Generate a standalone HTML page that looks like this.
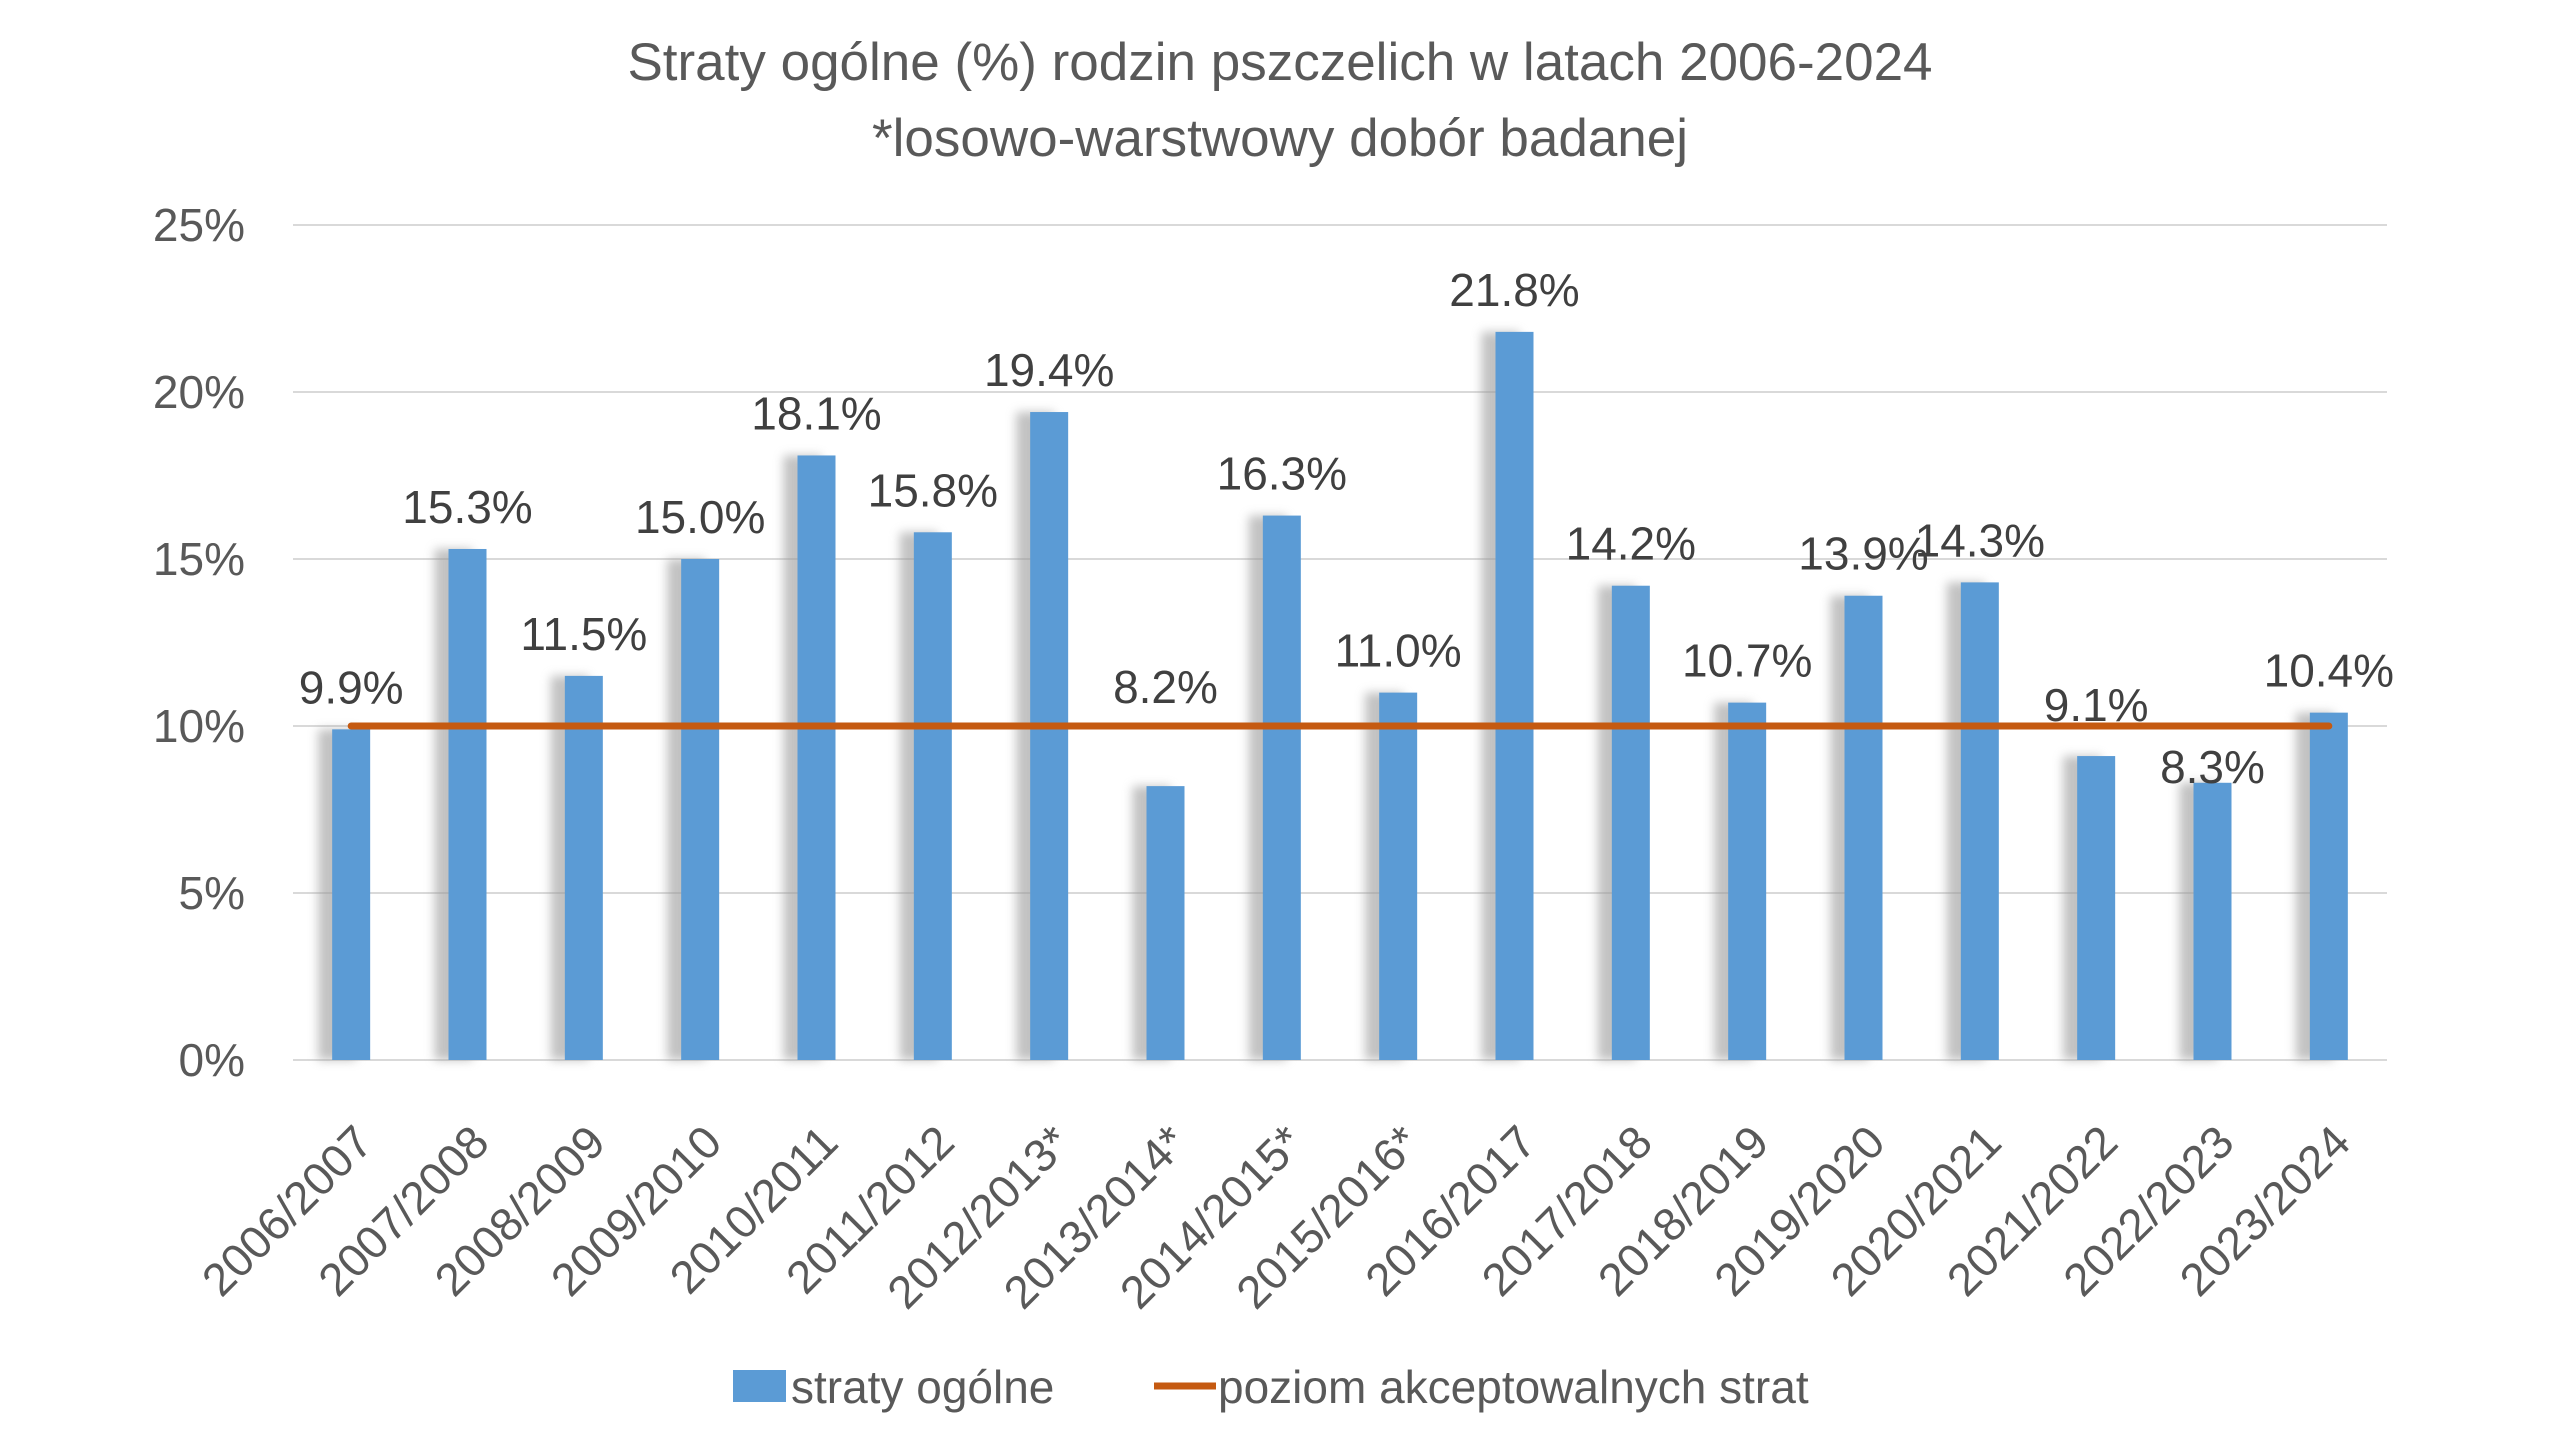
<!DOCTYPE html>
<html><head><meta charset="utf-8"><style>
html,body{margin:0;padding:0;background:#fff;}
svg{display:block;font-family:"Liberation Sans",sans-serif;}
</style></head><body>
<svg id="chart" width="2560" height="1440" viewBox="0 0 2560 1440">
<defs><filter id="blur" x="-50%" y="-10%" width="200%" height="120%"><feGaussianBlur stdDeviation="5"/></filter></defs>
<text x="1280" y="80" text-anchor="middle" font-size="53" fill="#595959">Straty ogólne (%) rodzin pszczelich w latach 2006-2024</text>
<text x="1280" y="156" text-anchor="middle" font-size="53" fill="#595959">*losowo-warstwowy dobór badanej</text>
<g id="grid"></g><g id="bars"></g><g id="line"></g><g id="labels"></g><g id="xlabels"></g>
<g>
<rect x="733" y="1370" width="53" height="32" fill="#5B9BD5"/>
<text x="791" y="1403" font-size="46" fill="#595959">straty ogólne</text>
<line x1="1154" y1="1386" x2="1216" y2="1386" stroke="#C55A11" stroke-width="7"/>
<text x="1218" y="1403" font-size="46" fill="#595959">poziom akceptowalnych strat</text>
</g>
</svg>
<script>
const categories=["2006/2007","2007/2008","2008/2009","2009/2010","2010/2011","2011/2012","2012/2013*","2013/2014*","2014/2015*","2015/2016*","2016/2017","2017/2018","2018/2019","2019/2020","2020/2021","2021/2022","2022/2023","2023/2024"];
const losses=[9.9,15.3,11.5,15.0,18.1,15.8,19.4,8.2,16.3,11.0,21.8,14.2,10.7,13.9,14.3,9.1,8.3,10.4];
const threshold=10;
const yTicks=[0,5,10,15,20,25];
const NS="http://www.w3.org/2000/svg";
const L=293,R=2387,T=225,B=1060,YMAX=25;
const bw=(R-L)/categories.length;
const x=i=>L+bw*(i+0.5);
const y=v=>B-(v/YMAX)*(B-T);
function mk(tag,parent,attrs){const e=document.createElementNS(NS,tag);for(const k in attrs)e.setAttribute(k,attrs[k]);document.getElementById(parent).appendChild(e);return e;}
yTicks.forEach(t=>{
 const g=mk('line','grid',{x1:L,x2:R,y1:y(t),y2:y(t),stroke:'#D9D9D9','stroke-width':2});
 
 
 const tl=mk('text','grid',{x:245,y:y(t)+16,'text-anchor':'end','font-size':46,fill:'#595959'});
 tl.textContent=t+'%';
 
 
});
const offs={7:99,15:51,16:16};
losses.forEach((v,i)=>{
 const cx=x(i),w=38;
 const sh=mk('rect','bars',{x:cx-w/2-14,y:y(v),width:w,height:B-y(v),fill:'#9a9a9a',opacity:0.6,filter:'url(#blur)'});
 
 
 const r=mk('rect','bars',{x:cx-w/2,y:y(v),width:w,height:B-y(v),fill:'#5B9BD5'});
 
 
 const off=offs[i]!==undefined?offs[i]:42;
 const t=mk('text','labels',{x:cx,y:y(v)-off+16,'text-anchor':'middle','font-size':46,fill:'#404040'});
 t.textContent=v.toFixed(1)+'%';
 
 
 const ax=cx+24,ay=1145;
 const xl=mk('text','xlabels',{x:ax,y:ay,'text-anchor':'end','font-size':46,fill:'#595959',transform:'rotate(-45 '+ax+' '+ay+')'});
 xl.textContent=categories[i];
 
 
});
const ln=mk('line','line',{x1:x(0),x2:x(categories.length-1),y1:y(threshold),y2:y(threshold),stroke:'#C55A11','stroke-width':7,'stroke-linecap':'round'});


</script>
</body></html>
